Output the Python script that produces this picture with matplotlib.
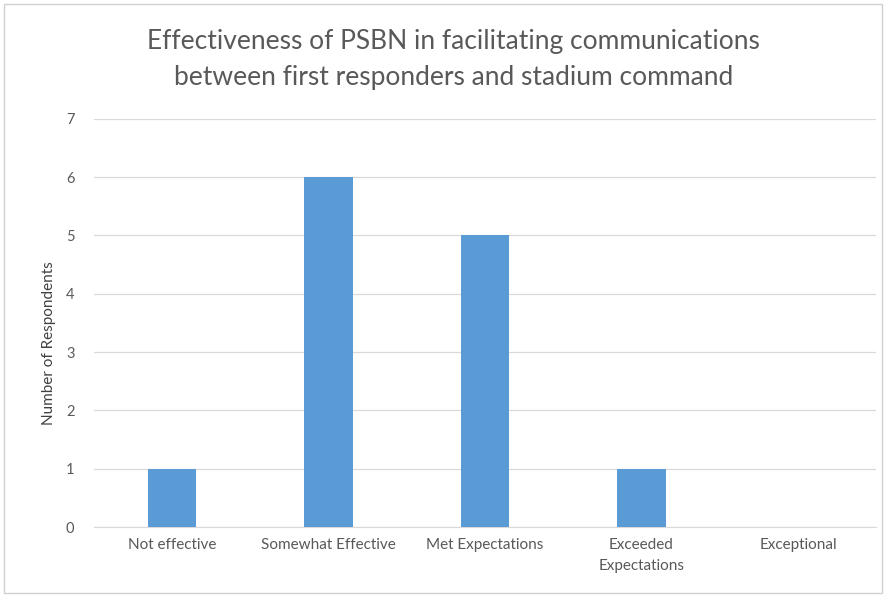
import matplotlib.pyplot as plt
from matplotlib.patches import Rectangle

categories = ['Not effective', 'Somewhat Effective', 'Met Expectations',
              'Exceeded\nExpectations', 'Exceptional']
counts = [1, 6, 5, 1, 0]
yticks = [0, 1, 2, 3, 4, 5, 6, 7]

title = 'Effectiveness of PSBN in facilitating communications\nbetween first responders and stadium command'
ylabel = 'Number of Respondents'

bar_color = '#5B9BD5'
text_color = '#595959'
grid_color = '#D9D9D9'

plt.rcParams['font.family'] = ['Lato', 'DejaVu Sans']

fig = plt.figure(figsize=(8.86, 5.97), dpi=100)
ax = fig.add_axes([0.106, 0.117, 0.883, 0.684])

x = range(len(categories))
ax.bar(x, counts, width=0.31, color=bar_color, zorder=3)

ax.set_xlim(-0.5, len(categories) - 0.5)
ax.set_ylim(0, 7)
ax.set_yticks(yticks)
ax.set_xticks(list(x))
ax.set_xticklabels(categories, fontsize=11, color=text_color, linespacing=1.6)
ax.tick_params(axis='y', labelsize=10.5, colors=text_color, length=0, pad=14)
ax.tick_params(axis='x', length=0, pad=8)

ax.yaxis.grid(True, color=grid_color, linewidth=0.9, zorder=0)
for s in ['top', 'right', 'left']:
    ax.spines[s].set_visible(False)
ax.spines['bottom'].set_color(grid_color)

ax.set_ylabel(ylabel, fontsize=11, color='#404040')
ax.yaxis.set_label_coords(-0.048, 0.45)
fig.text(0.512, 0.9, title, ha='center', va='center', fontsize=19,
         color=text_color, linespacing=1.55)

# light frame round the chart
fig.patches.append(Rectangle((0.004, 0.006), 0.992, 0.988, transform=fig.transFigure,
                             fill=False, edgecolor='#D0D0D0', linewidth=1))

plt.savefig('out.png', dpi=100)
